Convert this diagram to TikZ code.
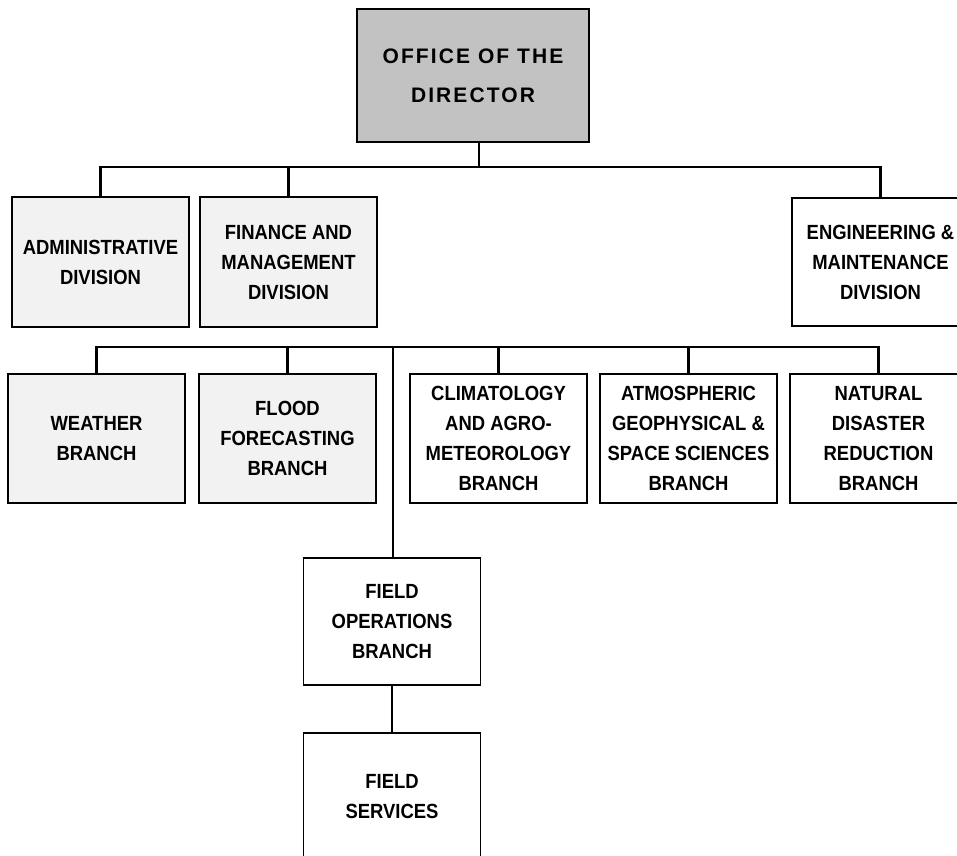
\documentclass[tikz,border=0pt]{standalone}
\usepackage{fontspec}
\setmainfont{Liberation Sans}[FakeStretch=0.9]
\newfontfamily\headfont{Liberation Sans}[LetterSpace=10]
\usepackage{tikz}
\usetikzlibrary{positioning}
\definecolor{directorgray}{gray}{0.76}
\definecolor{speckle}{gray}{0.95}
\tikzstyle{unitbox} = [rectangle, minimum width=177pt, minimum height=129pt, inner sep=0pt, outer sep=0pt, text centered, align=center, draw=black, line width=1.8pt, fill=white, font=\bfseries\fontsize{20.5}{30}\selectfont]
\tikzstyle{shaded} = [unitbox, fill=speckle]
\tikzstyle{director} = [unitbox, minimum width=232pt, minimum height=133pt, fill=directorgray, font=\headfont\bfseries\fontsize{21}{39}\selectfont]
\tikzstyle{conn} = [line width=2.8pt]

\begin{document}
\begin{tikzpicture}[x=1pt, y=-1pt]
    \useasboundingbox (0,0) rectangle (957,855);

    % top office
    \node (office_director) [director] at (473,75.5) {OFFICE OF THE\\DIRECTOR};

    % divisions
    \node (admin_div) [shaded, minimum height=130pt] at (100.5,262) {ADMINISTRATIVE\\DIVISION};
    \node (finance_div) [shaded, minimum height=130pt, right=11pt of admin_div] {FINANCE AND\\MANAGEMENT\\DIVISION};
    \node (engineering_div) [unitbox, minimum height=128pt] at (880.5,262) {ENGINEERING \&\\MAINTENANCE\\DIVISION};

    % branches
    \node (weather_branch) [shaded] at (96.5,438.5) {WEATHER\\BRANCH};
    \node (flood_branch) [shaded, right=14pt of weather_branch] {FLOOD\\FORECASTING\\BRANCH};
    \node (climatology_branch) [unitbox, right=34pt of flood_branch] {CLIMATOLOGY\\AND AGRO-\\METEOROLOGY\\BRANCH};
    \node (atmospheric_branch) [unitbox, right=13pt of climatology_branch] {ATMOSPHERIC\\GEOPHYSICAL \&\\SPACE SCIENCES\\BRANCH};
    \node (disaster_branch) [unitbox, right=13pt of atmospheric_branch] {NATURAL\\DISASTER\\REDUCTION\\BRANCH};

    % field units
    \node (field_ops) [unitbox, minimum height=127pt] at (392,621.5) {FIELD\\OPERATIONS\\BRANCH};
    \node (field_services) [unitbox, minimum height=127pt, below=48pt of field_ops] {FIELD\\SERVICES};

    \coordinate (div_bus) at (479,167);
    \coordinate (branch_bus) at (393,347);

    \draw [conn] (office_director.south -| div_bus) -- (div_bus);
    \draw [conn] (div_bus) -| (admin_div.north);
    \draw [conn] (div_bus) -| (finance_div.north);
    \draw [conn] (div_bus) -| (engineering_div.north);

    \draw [conn] (branch_bus) -| (weather_branch.north);
    \draw [conn] (branch_bus) -| (flood_branch.north);
    \draw [conn] (branch_bus) -| (climatology_branch.north);
    \draw [conn] (branch_bus) -| (atmospheric_branch.north);
    \draw [conn] (branch_bus) -| (disaster_branch.north);
    \draw [conn] (branch_bus) -- (branch_bus |- field_ops.north);
    \draw [conn] (field_ops.south) -- (field_ops.south |- field_services.north);
\end{tikzpicture}
\end{document}
